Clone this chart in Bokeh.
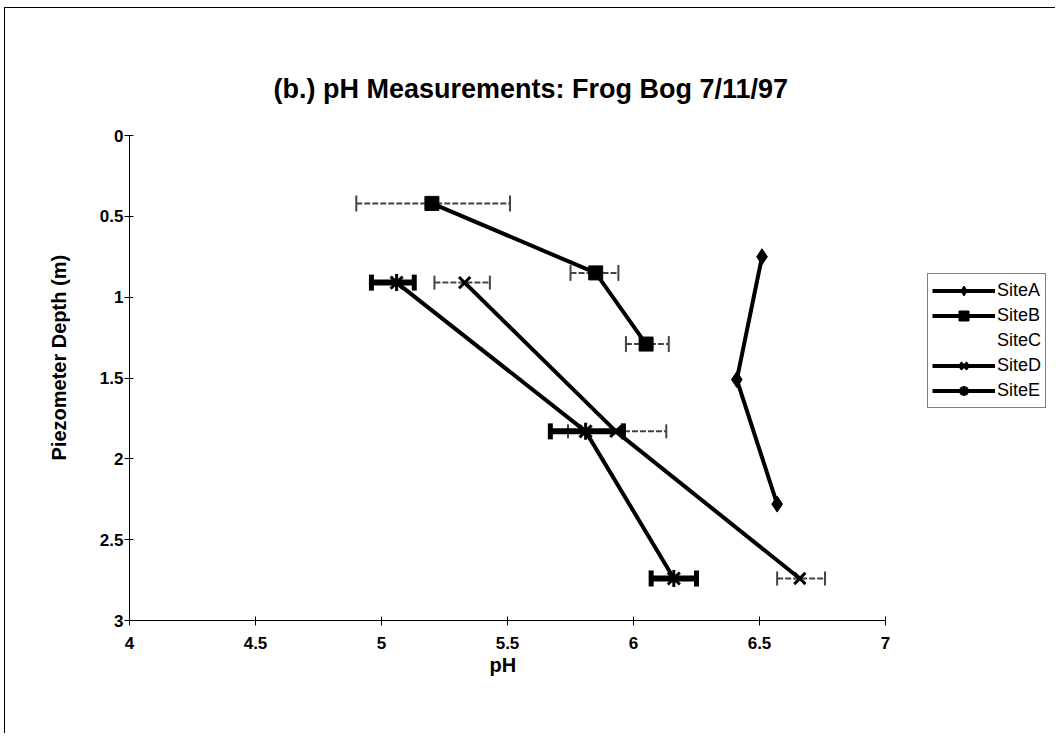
from bokeh.plotting import figure
from bokeh.models import Range1d, FixedTicker, Legend, LegendItem, Whisker, TeeHead, ColumnDataSource, Title
from bokeh.embed import file_html
from bokeh.resources import INLINE

# ---- data ----
x_ticks = [4, 4.5, 5, 5.5, 6, 6.5, 7]
x_tick_labels = ["4", "4.5", "5", "5.5", "6", "6.5", "7"]
y_ticks = [0, 0.5, 1, 1.5, 2, 2.5, 3]
y_tick_labels = ["0", "0.5", "1", "1.5", "2", "2.5", "3"]

depth_A = [0.75, 1.51, 2.28]
ph_A = [6.51, 6.41, 6.57]

depth_B = [0.42, 0.85, 1.29]
ph_B = [5.20, 5.85, 6.05]
lo_B = [4.90, 5.75, 5.97]
hi_B = [5.51, 5.94, 6.14]

depth_D = [0.91, 1.83, 2.74]
ph_D = [5.33, 5.93, 6.66]
lo_D = [5.21, 5.74, 6.57]
hi_D = [5.43, 6.13, 6.76]

depth_E = [0.91, 1.83, 2.74]
ph_E = [5.06, 5.81, 6.16]
lo_E = [4.96, 5.67, 6.07]
hi_E = [5.13, 5.96, 6.25]

FONT = "Liberation Sans"

# layout: axis part of the frame is 756 px wide (pH 4..7); the frame is
# extended to the right so that the legend can sit inside it unclipped.
AXIS_PX = 756
FRAME_W = 924
FRAME_H = 485
x_min, x_max = x_ticks[0], x_ticks[-1]
x_end = x_min + (x_max - x_min) * FRAME_W / AXIS_PX

p = figure(frame_width=FRAME_W, frame_height=FRAME_H, output_backend="svg", toolbar_location=None,
           x_range=Range1d(x_min, x_end), y_range=Range1d(y_ticks[-1], y_ticks[0]),
           min_border_left=124, min_border_right=2, min_border_top=127, min_border_bottom=113,
           title="(b.) pH Measurements: Frog Bog 7/11/97")
p.outline_line_color = None
p.grid.grid_line_color = None
p.background_fill_color = "white"
p.border_fill_color = "white"

p.title.align = "left"
p.title.offset = 144
p.title.text_font = FONT
p.title.text_font_size = "27px"
p.title.text_font_style = "bold"
p.title.text_color = "black"
p.title.standoff = 63

for ax, ticks, labels in ((p.xaxis[0], x_ticks, x_tick_labels), (p.yaxis[0], y_ticks, y_tick_labels)):
    ax.ticker = FixedTicker(ticks=ticks)
    ax.major_label_overrides = {t: l for t, l in zip(ticks, labels)}
    ax.minor_tick_line_color = None
    ax.major_tick_in = 4
    ax.major_tick_out = 5
    ax.axis_line_color = "black"
    ax.major_tick_line_color = "black"
    ax.major_label_text_font = FONT
    ax.major_label_text_font_size = "17px"
    ax.major_label_text_font_style = "bold"
    ax.major_label_text_color = "black"

p.xaxis[0].bounds = (x_min, x_max)
p.xaxis[0].major_label_standoff = 11
p.yaxis[0].major_label_standoff = 1
p.yaxis[0].major_label_orientation = "horizontal"

# axis titles as panel titles so they can be positioned like the reference
xlab = Title(text="pH", align="left", offset=360, standoff=0,
             text_font=FONT, text_font_size="20px", text_font_style="bold", text_color="black")
p.add_layout(xlab, "below")
ylab = Title(text="Piezometer Depth (m)", align="left", offset=160, standoff=50,
             vertical_align="top",
             text_font=FONT, text_font_size="20px", text_font_style="bold", text_color="black")
p.add_layout(ylab, "left")

# ---- error bars ----
def errbar(depth, lo, hi, color, lw, dash, head):
    src = ColumnDataSource(dict(y=depth, lo=lo, hi=hi))
    w = Whisker(source=src, base="y", lower="lo", upper="hi", dimension="width",
                line_color=color, line_width=lw, line_dash=dash,
                upper_head=TeeHead(size=head, line_color=color, line_width=max(lw - 1, 2)),
                lower_head=TeeHead(size=head, line_color=color, line_width=max(lw - 1, 2)))
    p.add_layout(w)

errbar(depth_B, lo_B, hi_B, "#444444", 2, "6 2", 16)
errbar(depth_D, lo_D, hi_D, "#444444", 2, "6 2", 14)
errbar(depth_E, lo_E, hi_E, "black", 6, "solid", 16)

# ---- series ----
LW = 4
lA = p.line(ph_A, depth_A, line_color="black", line_width=LW)
mA = p.scatter(ph_A, depth_A, marker="diamond", size=16, fill_color="black", line_color="black")
lB = p.line(ph_B, depth_B, line_color="black", line_width=LW)
mB = p.scatter(ph_B, depth_B, marker="square", size=14, fill_color="black", line_color="black")
lC = p.line([], [], line_alpha=0)
lD = p.line(ph_D, depth_D, line_color="black", line_width=LW)
mD = p.scatter(ph_D, depth_D, marker="x", size=16, line_color="black", line_width=3)
lE = p.line(ph_E, depth_E, line_color="black", line_width=LW)
mE = p.scatter(ph_E, depth_E, marker="asterisk", size=17, line_color="black", line_width=3)

legend = Legend(items=[
    LegendItem(label="SiteA", renderers=[lA, mA]),
    LegendItem(label="SiteB", renderers=[lB, mB]),
    LegendItem(label="SiteC", renderers=[lC]),
    LegendItem(label="SiteD", renderers=[lD, mD]),
    LegendItem(label="SiteE", renderers=[lE, mE]),
], location=(798, 212))
legend.border_line_color = "black"
legend.border_line_width = 1
legend.background_fill_color = "white"
legend.background_fill_alpha = 1
legend.label_text_font = FONT
legend.label_text_font_size = "18px"
legend.label_text_color = "black"
legend.glyph_width = 63
legend.glyph_height = 25
legend.label_height = 25
legend.label_standoff = 2
legend.spacing = 0
legend.padding = 4
legend.margin = 0
p.add_layout(legend)

p.styles = {"border-top": "1px solid black", "border-left": "1px solid black",
            "margin-left": "4px", "margin-top": "7px"}

open("out.html", "w").write(file_html(p, INLINE))
